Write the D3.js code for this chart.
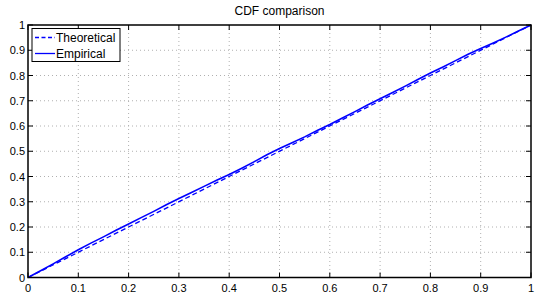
<!DOCTYPE html>
<html><head><meta charset="utf-8">
<script src="https://cdn.jsdelivr.net/npm/d3@7"></script>
<style>body{margin:0;background:#fff}svg{display:block}text{font-family:"Liberation Sans",Arial,Helvetica,sans-serif;fill:#000}</style>
</head><body><svg id="c" width="543" height="299"></svg>
<script>
const title = "CDF comparison";
const seriesNames = ["Theoretical", "Empirical"];
const ticks = [0,0.1,0.2,0.3,0.4,0.5,0.6,0.7,0.8,0.9,1];
const tickLabels = ["0","0.1","0.2","0.3","0.4","0.5","0.6","0.7","0.8","0.9","1"];
const theoX = [0, 1];
const theoY = [0, 1];
const empX = [0,0.025,0.05,0.075,0.1,0.125,0.15,0.175,0.2,0.225,0.25,0.275,0.3,0.325,0.35,0.375,0.4,0.425,0.45,0.475,0.5,0.525,0.55,0.575,0.6,0.625,0.65,0.675,0.7,0.725,0.75,0.775,0.8,0.825,0.85,0.875,0.9,0.925,0.95,0.975,1];
const empY = [0,0.027,0.054,0.082,0.110,0.136,0.161,0.187,0.212,0.237,0.262,0.288,0.313,0.337,0.361,0.385,0.408,0.433,0.459,0.486,0.511,0.534,0.557,0.582,0.606,0.632,0.657,0.683,0.708,0.733,0.758,0.784,0.810,0.834,0.859,0.884,0.907,0.929,0.952,0.976,1];

const svg = d3.select("#c");
const L=28,R=531,T=25,B=277.5;
const x = d3.scaleLinear().domain([0,1]).range([L,R]);
const y = d3.scaleLinear().domain([0,1]).range([B,T]);

// grid
const g = svg.append("g");
ticks.forEach(t=>{
  if(t>0&&t<1){
    g.append("line").attr("x1",x(t)).attr("x2",x(t)).attr("y1",T).attr("y2",B).attr("stroke","#b0b0b0").attr("stroke-width",1).attr("stroke-dasharray","1,3");
  }
  if(t>0&&t<1){
    g.append("line").attr("x1",L).attr("x2",R).attr("y1",y(t)).attr("y2",y(t)).attr("stroke","#b0b0b0").attr("stroke-width",1).attr("stroke-dasharray","1,3");
  }
});

// lines
const line = d3.line().x(d=>x(d[0])).y(d=>y(d[1]));
svg.append("path").datum(theoX.map((v,i)=>[v,theoY[i]])).attr("d",line).attr("fill","none").attr("stroke","#0000ff").attr("stroke-width",1.3).attr("stroke-dasharray","5,3");
svg.append("path").datum(empX.map((v,i)=>[v,empY[i]])).attr("d",line).attr("fill","none").attr("stroke","#0000ff").attr("stroke-width",1.6);

// axes box
svg.append("rect").attr("x",L).attr("y",T).attr("width",R-L).attr("height",B-T).attr("fill","none").attr("stroke","#000").attr("stroke-width",1.5);

// ticks
const tl=5;
ticks.forEach((t,i)=>{
  svg.append("line").attr("x1",x(t)).attr("x2",x(t)).attr("y1",B).attr("y2",B-tl).attr("stroke","#000");
  svg.append("line").attr("x1",x(t)).attr("x2",x(t)).attr("y1",T).attr("y2",T+tl).attr("stroke","#000");
  svg.append("line").attr("x1",L).attr("x2",L+tl).attr("y1",y(t)).attr("y2",y(t)).attr("stroke","#000");
  svg.append("line").attr("x1",R).attr("x2",R-tl).attr("y1",y(t)).attr("y2",y(t)).attr("stroke","#000");
  svg.append("text").attr("x",x(t)).attr("y",B+14).attr("text-anchor","middle").attr("font-size",11).text(tickLabels[i]);
  svg.append("text").attr("x",L-3).attr("y",y(t)+4).attr("text-anchor","end").attr("font-size",11).text(tickLabels[i]);
});

svg.append("text").attr("x",(L+R)/2).attr("y",15).attr("text-anchor","middle").attr("font-size",12).text(title);

// legend
const lg = svg.append("g");
lg.append("rect").attr("x",32).attr("y",28.5).attr("width",88).attr("height",33).attr("fill","#fff").attr("stroke","#000").attr("stroke-width",1);
[0,1].forEach(i=>{
  const yy = 37.5 + i*16;
  lg.append("line").attr("x1",35).attr("x2",55).attr("y1",yy).attr("y2",yy).attr("stroke","#0000ff").attr("stroke-width",1.3).attr("stroke-dasharray", i===0?"4,2.5":null);
  lg.append("text").attr("x",56).attr("y",yy+4.5).attr("font-size",12).text(seriesNames[i]);
});
</script></body></html>
